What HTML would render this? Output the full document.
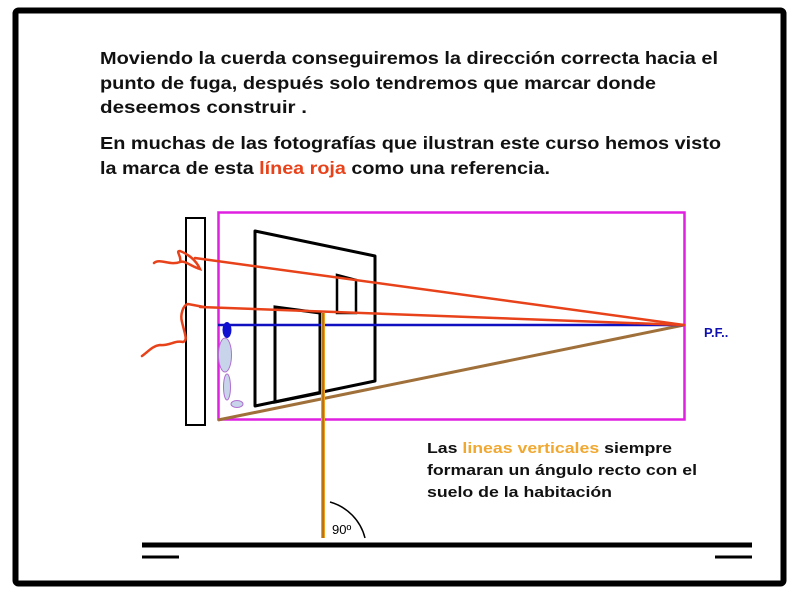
<!DOCTYPE html>
<html><head><meta charset="utf-8"><style>
html,body{margin:0;padding:0;background:#fff;}
svg{display:block;}
text{font-family:"Liberation Sans",Arial,sans-serif;font-weight:bold;}
</style></head><body>
<svg width="800" height="600" viewBox="0 0 800 600" xmlns="http://www.w3.org/2000/svg">
<rect x="0" y="0" width="800" height="600" fill="#fff"/>
<rect x="15.5" y="10.5" width="768" height="573" fill="none" stroke="#000" stroke-width="6" rx="3"/>

<g font-size="17.5" fill="#111">
<text x="100" y="64" textLength="618" lengthAdjust="spacingAndGlyphs">Moviendo la cuerda conseguiremos la dirección correcta hacia el</text>
<text x="100" y="89" textLength="556" lengthAdjust="spacingAndGlyphs">punto de fuga, después solo tendremos que marcar donde</text>
<text x="100" y="113" textLength="207" lengthAdjust="spacingAndGlyphs">deseemos construir .</text>
<text x="100" y="149" textLength="621" lengthAdjust="spacingAndGlyphs">En muchas de las fotografías que ilustran este curso hemos visto</text>
<text x="100" y="174" textLength="450" lengthAdjust="spacingAndGlyphs">la marca de esta <tspan fill="#e8421a">línea roja</tspan> como una referencia.</text>
</g>

<!-- pink rect -->
<rect x="218.5" y="212.5" width="466" height="207" fill="none" stroke="#e020e0" stroke-width="2.5"/>
<!-- pillar -->
<rect x="186" y="218" width="19" height="207" fill="#fff" stroke="#000" stroke-width="2"/>

<!-- wall -->
<polygon points="255,231 375,256 375,381 255,406" fill="none" stroke="#000" stroke-width="3" stroke-linejoin="round"/>
<!-- window -->
<polygon points="337,275 356,280 356,313 337,313" fill="none" stroke="#000" stroke-width="2.5"/>
<!-- door -->
<polygon points="275,402 275,307 320,313 320,393" fill="none" stroke="#000" stroke-width="3"/>

<!-- brown floor line -->
<line x1="218" y1="420" x2="684" y2="325" stroke="#a0703a" stroke-width="3"/>
<!-- blue horizon -->
<line x1="218" y1="325" x2="684" y2="325" stroke="#1010c0" stroke-width="2.5"/>

<!-- red strings -->
<g fill="none" stroke="#e8421a" stroke-width="2.5" stroke-linecap="round">
<line x1="195" y1="258" x2="684" y2="325"/>
<line x1="200" y1="307" x2="684" y2="325"/>
<path d="M154,263 C160,258 170,266 180,262 C182,256 175,251 180,251 C188,254 196,260 200,269 C190,266 185,260 180,262"/>
<path d="M204,307 L188,304 C183,305 180,315 182,322 C185,335 188,340 183,342 C175,340 170,346 160,345 C152,346 148,352 142,356"/>
</g>

<!-- person -->
<ellipse cx="227" cy="330" rx="4.5" ry="8" fill="#1010d0"/>
<ellipse cx="225" cy="355" rx="6.5" ry="17" fill="#c8d4ea" stroke="#b070d0" stroke-width="1"/>
<ellipse cx="227" cy="387" rx="3.5" ry="13" fill="#c8d4ea" stroke="#b070d0" stroke-width="1"/>
<ellipse cx="237" cy="404" rx="6" ry="3.5" fill="#c8d4ea" stroke="#b070d0" stroke-width="1"/>

<!-- orange vertical -->
<line x1="323" y1="313" x2="323" y2="538" stroke="#f0a020" stroke-width="4"/>
<line x1="323" y1="313" x2="323" y2="538" stroke="#7a4a10" stroke-width="1"/>

<!-- 90 arc -->
<path d="M330,502 A50,50 0 0 1 365,538" fill="none" stroke="#000" stroke-width="1.5"/>
<text x="332" y="534" font-size="13" style="font-weight:normal" fill="#000">90º</text>

<!-- floor -->
<line x1="142" y1="545" x2="752" y2="545" stroke="#000" stroke-width="5"/>
<line x1="142" y1="557" x2="179" y2="557" stroke="#000" stroke-width="3"/>
<line x1="715" y1="557" x2="752" y2="557" stroke="#000" stroke-width="3"/>

<text x="704" y="337" font-size="13" fill="#1010b0">P.F..</text>

<g font-size="14.5" fill="#111">
<text x="427" y="453" textLength="245" lengthAdjust="spacingAndGlyphs">Las <tspan fill="#f0a830">lineas verticales</tspan> siempre</text>
<text x="427" y="475" textLength="270" lengthAdjust="spacingAndGlyphs">formaran un ángulo recto con el</text>
<text x="427" y="497" textLength="185" lengthAdjust="spacingAndGlyphs">suelo de la habitación</text>
</g>
</svg>
</body></html>
